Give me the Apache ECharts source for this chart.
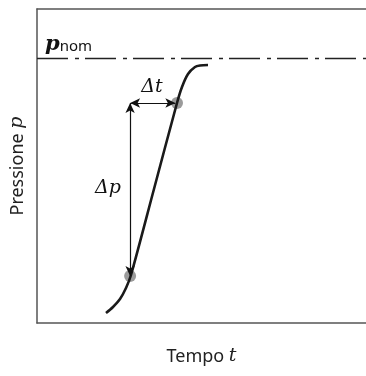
<!DOCTYPE html>
<html>
<head>
<meta charset="utf-8">
<script src="https://cdn.jsdelivr.net/npm/echarts@6/dist/echarts.min.js"></script>
<style>
  html, body { margin: 0; padding: 0; background: #fff; }
  #chart { width: 366px; height: 376px; }
</style>
</head>
<body>
<div id="chart"></div>
<script>
// Pressure rise curve (time t vs pressure p), both in relative units 0..100
const timeT     = [20.97, 23.10, 25.23, 27.05, 28.57, 35.56, 42.55, 44.07, 45.90, 48.02, 49.54, 51.98];
const pressureP = [3.18, 5.10, 7.64, 11.15, 15.29, 42.68, 70.06, 75.16, 79.30, 81.53, 82.01, 82.17];

// Nominal pressure level
const pNom = 84.2;

// Marked points on the curve (start and end of the measured rise)
const markT = [28.3, 42.55];
const markP = [15.0, 70.06];

// Annotation texts and their anchor positions
const noteText = ['Δt', 'Δp'];
const noteT = [34.95, 21.6];
const noteP = [75.2, 43.0];

const axisColor = '#555';
const serif = '"DejaVu Serif", "Liberation Serif", serif';
const sans = '"Noto Sans", "Open Sans", sans-serif';

const nameRich = {
  s: { fontFamily: sans, fontSize: 18, color: '#222' },
  i: { fontFamily: serif, fontStyle: 'italic', fontSize: 19, color: '#222' }
};

const chart = echarts.init(document.getElementById('chart'));
chart.setOption({
  animation: false,
  grid: { left: 37, right: 0, top: 9, bottom: 53, containLabel: false, outerBoundsMode: 'none' },
  xAxis: [
    {
      type: 'value', min: 0, max: 100, position: 'bottom',
      axisLine: { show: true, lineStyle: { color: axisColor, width: 1.5 } },
      axisTick: { show: false }, axisLabel: { show: false }, splitLine: { show: false },
      name: '{s|Tempo }{i|t}', nameLocation: 'middle', nameGap: 24,
      nameTextStyle: { rich: nameRich }
    },
    {
      type: 'value', min: 0, max: 100, position: 'top',
      axisLine: { show: true, lineStyle: { color: axisColor, width: 1.5 } },
      axisTick: { show: false }, axisLabel: { show: false }, splitLine: { show: false }
    }
  ],
  yAxis: {
    type: 'value', min: 0, max: 100,
    axisLine: { show: true, lineStyle: { color: axisColor, width: 1.5 } },
    axisTick: { show: false }, axisLabel: { show: false }, splitLine: { show: false },
    name: '{s|Pressione }{i|p}', nameLocation: 'middle', nameGap: 10,
    nameTextStyle: { rich: nameRich }
  },
  series: [
    {
      type: 'scatter',
      z: 1,
      symbolSize: 12,
      itemStyle: { color: 'rgba(130,130,130,0.8)', opacity: 1 },
      data: markT.map((t, i) => [t, markP[i]]),
      markLine: {
        silent: true,
        symbol: ['arrow', 'arrow'],
        symbolSize: [7, 10],
        lineStyle: { color: '#111', width: 1.2, type: 'solid' },
        label: { show: false },
        data: [
          [{ coord: [markT[0], markP[1]] }, { coord: [markT[0], markP[0]] }],
          [{ coord: [markT[0], markP[1]] }, { coord: [markT[1] - 0.5, markP[1]] }]
        ]
      }
    },
    {
      type: 'line',
      z: 3,
      smooth: 0.3,
      showSymbol: false,
      lineStyle: { color: '#1a1a1a', width: 2.6 },
      data: timeT.map((t, i) => [t, pressureP[i]]),
      markLine: {
        silent: true,
        symbol: ['none', 'none'],
        lineStyle: { color: '#222', width: 1.3, type: [31, 7, 4, 6] },
        label: {
          show: true,
          position: 'insideStartTop',
          distance: [8, 4],
          formatter: '{p|p}{n|nom}',
          rich: {
            p: { fontFamily: serif, fontStyle: 'italic', fontWeight: 'bold', fontSize: 21, color: '#111' },
            n: { fontFamily: sans, fontSize: 15, color: '#111', padding: [6, 0, 0, 0] }
          }
        },
        data: [{ yAxis: pNom }]
      }
    },
    {
      type: 'scatter',
      z: 4,
      symbolSize: 0,
      itemStyle: { opacity: 1 },
      label: {
        show: true,
        position: 'inside',
        formatter: p => noteText[p.dataIndex],
        fontFamily: serif,
        fontStyle: 'italic',
        fontSize: 19,
        color: '#111'
      },
      data: noteT.map((t, i) => [t, noteP[i]])
    }
  ]
});
</script>
</body>
</html>
